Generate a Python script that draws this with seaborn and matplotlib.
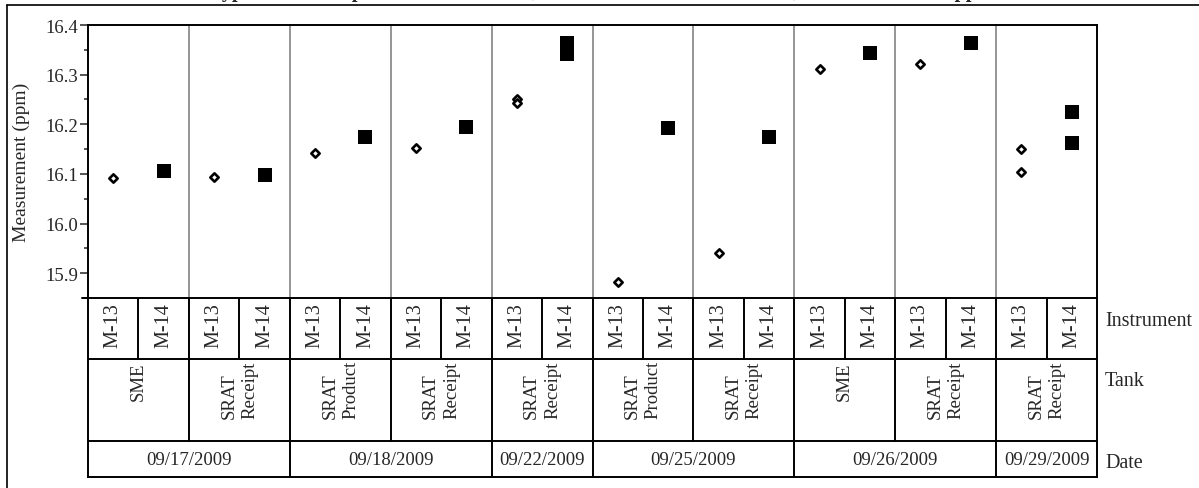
import matplotlib
matplotlib.use('Agg')
import matplotlib.pyplot as plt
from matplotlib.lines import Line2D
import seaborn as sb
import pandas as pd
import numpy as np

## Data
dates = ['09/17/2009', '09/17/2009', '09/18/2009', '09/18/2009', '09/22/2009',
         '09/25/2009', '09/25/2009', '09/26/2009', '09/26/2009', '09/29/2009']
tanks = ['SME', 'SRAT\nReceipt', 'SRAT\nProduct', 'SRAT\nReceipt', 'SRAT\nReceipt',
         'SRAT\nProduct', 'SRAT\nReceipt', 'SME', 'SRAT\nReceipt', 'SRAT\nReceipt']
instruments = ['M-13', 'M-14']
m13_vals = [[16.092], [16.093], [16.142], [16.152], [16.250, 16.242],
            [15.883], [15.941], [16.311], [16.321], [16.151, 16.103]]
m14_vals = [[16.105], [16.097], [16.175], [16.194], [16.364, 16.342],
            [16.193], [16.175], [16.343], [16.364], [16.224, 16.163]]
y_ticks = [15.9, 16.0, 16.1, 16.2, 16.3, 16.4]
title = 'Typical Mn Sample Results for Tanks, Measured on M-13 and M-14, Concentration in ppm'

## Build long table
rows = []
for g in range(len(tanks)):
    for i, vals in enumerate([m13_vals[g], m14_vals[g]]):
        for v in vals:
            rows.append({'group': g, 'Instrument': instruments[i],
                         'pos': g * 2 + i + 0.5, 'Measurement': v})
df = pd.DataFrame(rows)
n_cells = len(tanks) * 2

## Figure setup
sb.set_style('ticks')
plt.rcParams['font.family'] = ['Liberation Serif', 'DejaVu Serif']
W, H = 1199, 489
fig = plt.figure(figsize=(W / 100, H / 100), dpi=100)

def px_rect(x0, y0, x1, y1):
    return [x0 / W, 1 - y1 / H, (x1 - x0) / W, (y1 - y0) / H]

ax = fig.add_axes(px_rect(88, 26, 1097, 299))
tab = fig.add_axes(px_rect(88, 299, 1097, 478))

# group separators
for g in range(1, len(tanks)):
    ax.axvline(g * 2, color='#8c8c8c', lw=1.3, zorder=1)

d13 = df[df['Instrument'] == 'M-13']
d14 = df[df['Instrument'] == 'M-14']
sb.scatterplot(data=d14, x='pos', y='Measurement', marker='s', color='black',
               s=90, linewidth=0, ax=ax, zorder=3)
sb.scatterplot(data=d13, x='pos', y='Measurement', marker='D', color='white',
               edgecolor='black', s=18, linewidth=1.9, ax=ax, zorder=3)

ax.set_xlim(0, n_cells)
ax.set_ylim(16.4 - 273 / 500, 16.4)
ax.set_xticks([])
ax.set_xlabel('')
ax.set_yticks(y_ticks)
ax.set_yticklabels(['%.1f' % t for t in y_ticks])
ax.set_yticks(np.arange(15.85, 16.41, 0.05), minor=True)
ax.tick_params(axis='y', which='major', length=6, width=1.1, labelsize=13.5, pad=1, direction='out')
ax.tick_params(axis='y', which='minor', length=3, width=1.1, direction='out')
ax.set_ylabel('Measurement (ppm)', fontsize=14)
ax.yaxis.set_label_coords(-0.0575, 0.5)
for sp in ['top', 'right', 'left']:
    ax.spines[sp].set_visible(True)
    ax.spines[sp].set_color('black')
    ax.spines[sp].set_linewidth(1.4)
ax.spines['bottom'].set_visible(False)

## Table of factors
tab.set_xlim(0, n_cells)
tab.set_ylim(478, 299)
tab.set_xticks([])
tab.set_yticks([])
for sp in tab.spines.values():
    sp.set_visible(True)
    sp.set_color('black')
    sp.set_linewidth(1.4)
lk = dict(color='black', lw=1.4)
tab.plot([0, n_cells], [360, 360], **lk)
tab.plot([0, n_cells], [442, 442], **lk)
for c in range(1, n_cells):
    tab.plot([c, c], [299, 360], **lk)
for g in range(1, len(tanks)):
    tab.plot([g * 2, g * 2], [360, 442], **lk)

fs = 13.5
for g in range(len(tanks)):
    for i in range(2):
        tab.text(g * 2 + i + 0.5, 326, instruments[i], rotation=90, ha='center',
                 va='center', fontsize=14.5)
    if '\n' in tanks[g]:
        tab.text(g * 2 + 1, 419, tanks[g], rotation=90, ha='center', va='bottom',
                 multialignment='left', fontsize=13.5, linespacing=1.3)
    else:
        tab.text(g * 2 + 1, 363, tanks[g], rotation=90, ha='center', va='top',
                 fontsize=13.5)

# date row merged cells
uniq = []
for d in dates:
    if d not in uniq:
        uniq.append(d)
start = 0
for d in uniq:
    n = dates.count(d) * 2
    tab.text(start + n / 2, 461, d, ha='center', va='center', fontsize=fs)
    if start > 0:
        tab.plot([start, start], [442, 478], **lk)
    start += n

## Row labels
for lab, yp in [('Instrument', 322), ('Tank', 382), ('Date', 464)]:
    fig.text(1105 / W, 1 - yp / H, lab, ha='left', va='center', fontsize=14.5)

# axis bottom stub and outer frame
fig.add_artist(Line2D([82 / W, 88 / W], [1 - 299 / H, 1 - 299 / H], color='black', lw=1.4))
fig.add_artist(Line2D([7 / W, 1], [1 - 6 / H, 1 - 6 / H], color='black', lw=1.2))
fig.add_artist(Line2D([7 / W, 7 / W], [1 - 6 / H, 0], color='black', lw=1.2))

# title (cut off at top as in the source)
fig.text(0.502, 1 + 3 / H, title, ha='center', va='baseline', fontsize=14.5,
         fontweight='bold')

fig.savefig('out.png', dpi=100)
